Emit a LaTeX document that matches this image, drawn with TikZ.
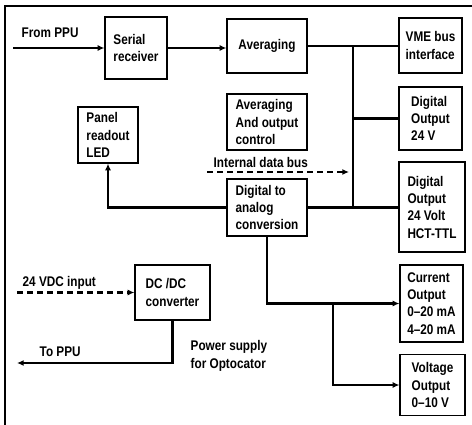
\documentclass[tikz,border=0pt]{standalone}
\usepackage{fontspec}
\setmainfont{Liberation Sans}[FakeStretch=0.84]
\usetikzlibrary{arrows.meta, positioning}

\begin{document}
\begin{tikzpicture}[x=0.75pt, y=-0.75pt,
    font=\fontsize{10.5}{13}\selectfont\bfseries,
    blk/.style={draw, line width=0.9pt, align=left, inner sep=2pt},
    wire/.style={line width=2pt},
    arr/.style={wire, -{Latex[length=5pt,width=4.5pt]}},
    dbus/.style={arr, dash pattern=on 4.5pt off 3pt}]
            \useasboundingbox (0,0) rectangle (472,425);
            \draw[line width=1pt] (5,425) -- (5,7);
            \draw[line width=2.2pt] (4,6) -- (472,6);
            % blocks
            \node[blk, minimum width=46.5pt, minimum height=46.5pt] (serial) at (136,48) {Serial\\receiver};
            \node[blk, minimum width=60pt, minimum height=40.5pt] (avg) at (267,46) {Averaging};
            \node[blk, minimum width=60pt, minimum height=42pt] (ctrl) at (267,122) {Averaging\\And output\\control};
            \node[blk, minimum width=60pt, minimum height=42.75pt] (dac) at (267,207.5) {Digital to\\analog\\conversion};
            \node[blk, minimum width=45pt, minimum height=42pt] (led) at (108,135) {Panel\\readout\\LED};
            \node[blk, minimum width=56.25pt, minimum height=41.25pt] (dcdc) at (172.5,292.5) {DC /DC\\converter};
            \node[blk, minimum width=47.25pt, minimum height=41.25pt] (vme) at (430.5,45.5) {VME bus\\interface};
            \node[blk, minimum width=47.25pt, minimum height=47.25pt] (dout) at (430.5,118.5) {Digital\\Output\\24 V};
            \node[blk, minimum width=49.5pt, minimum height=67.5pt] (ttl) at (432,207) {Digital\\Output\\24 Volt\\HCT-TTL};
            \node[blk, minimum width=47.25pt, minimum height=57.75pt] (cur) at (431.5,303.5) {Current\\Output\\0--20 mA\\4--20 mA};
            \node[blk, minimum width=48.75pt, minimum height=45.75pt] (volt) at (432.5,385) {Voltage\\Output\\0--10 V};
            % free ends
            \coordinate (ppuin) at (13,48);
            \coordinate (bus) at (353,208);
            \coordinate (busin) at (207,172);
            \coordinate (busend) at (349,172);
            \coordinate (br) at (333,303.5);
            \coordinate (vdc) at (17,292.5);
            \coordinate (toppu) at (17,363);
            % connectors
            \draw[arr] (ppuin) -- (serial.west);
            \draw[arr] (serial.east) -- (serial.east -| avg.west);
            \draw[wire] (avg.east) -- (avg.east -| vme.west);
            \draw[wire] (bus |- avg.east) -- (bus);
            \draw[wire] (bus |- dout.west) -- (dout.west);
            \draw[wire] (dac.east) -- (dac.east -| ttl.west);
            \draw[dbus] (busin) -- (busend);
            \draw[arr] (dac.west) -| (led.south);
            \draw[arr] (dac.south) |- (cur.west);
            \draw[arr] (br) |- (volt.west);
            \draw[dbus] (vdc) -- (dcdc.west);
            \draw[arr] (dcdc.south) |- (toppu);
            % labels
            \node[anchor=base west] (lppu) at (17,37) {From PPU};
            \node[anchor=base west] (lbus) at (209,167) {Internal data bus};
            \node[anchor=base west] (lvdc) at (18,286) {24 VDC input};
            \node[anchor=base west] (ltoppu) at (35,356) {To PPU};
            \node[anchor=north west, align=left] (lpow) at (186,336) {Power supply\\for Optocator};
        \end{tikzpicture}
\end{document}
